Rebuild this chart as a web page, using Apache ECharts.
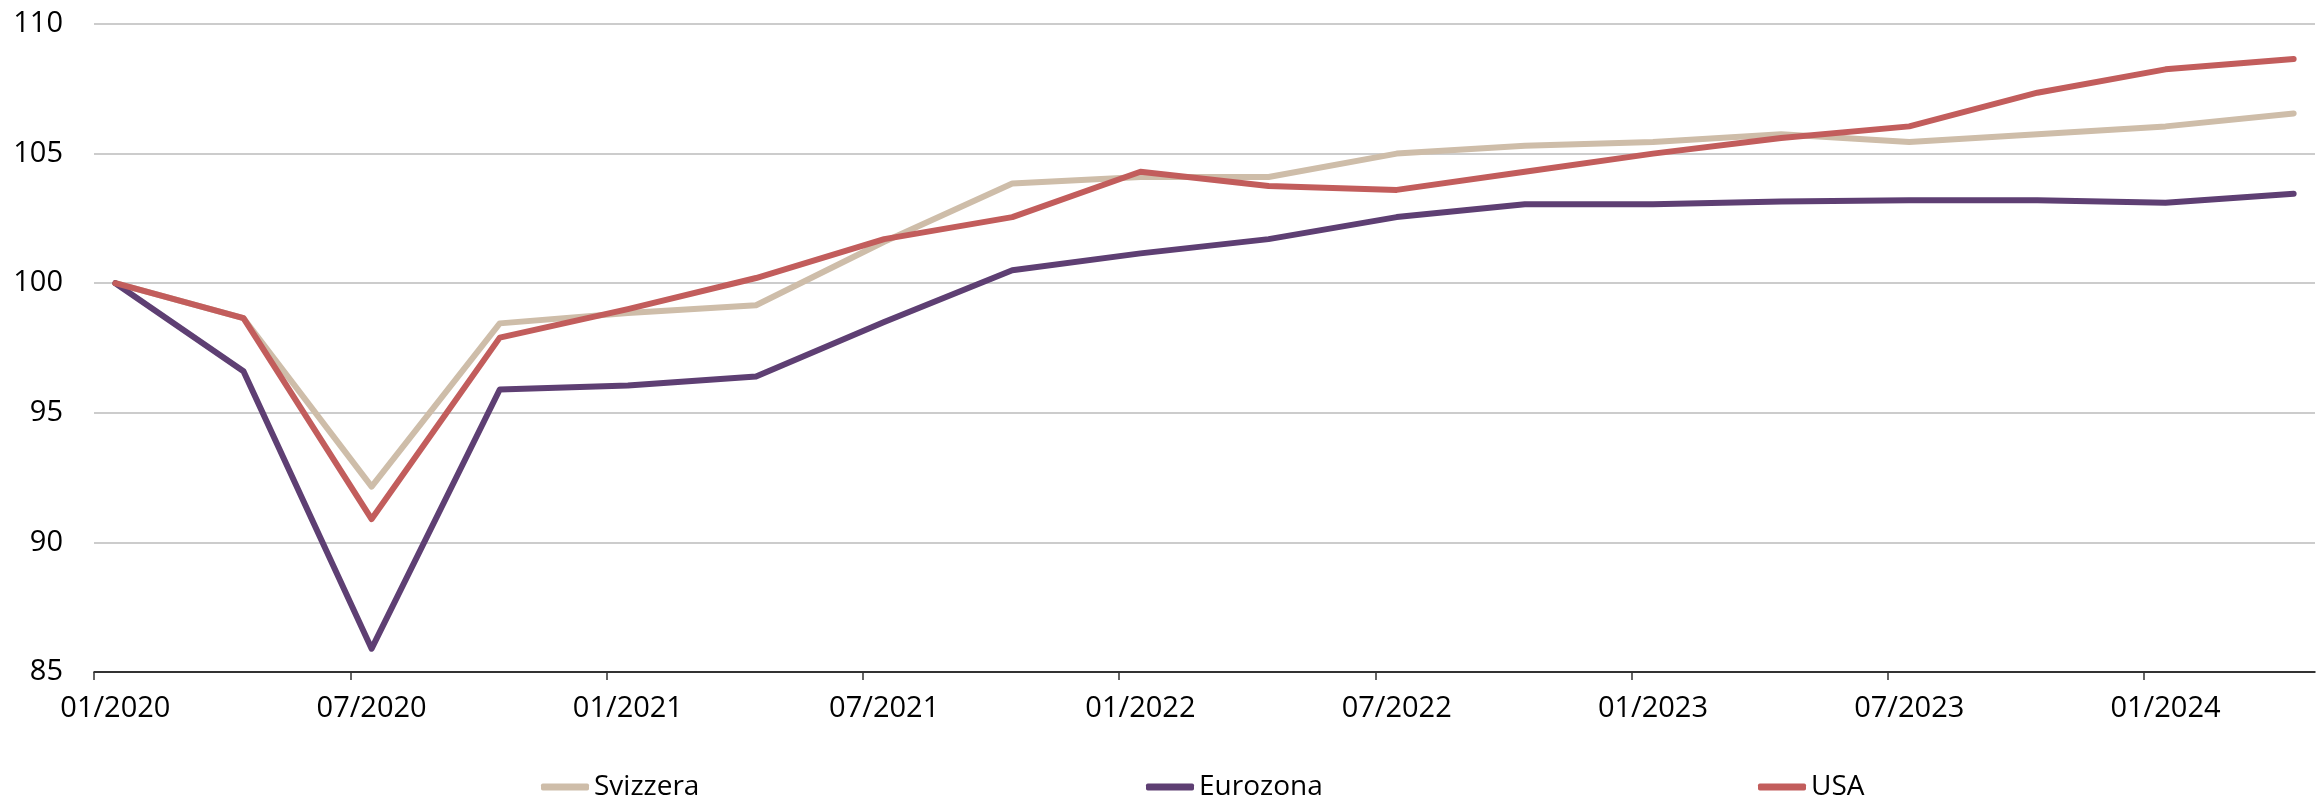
<!DOCTYPE html>
<html>
<head>
<meta charset="utf-8">
<title>Svizzera, Eurozona, USA</title>
<script src="https://cdn.jsdelivr.net/npm/echarts@6/dist/echarts.min.js"></script>
<style>
  html, body { margin: 0; padding: 0; background: #ffffff; }
  #chart { width: 2323px; height: 799px; }
</style>
</head>
<body>
<div id="chart"></div>
<script>
// Monthly axis, January 2020 to April 2024
const years = [2020, 2021, 2022, 2023, 2024];
const months = [];
years.forEach(y => {
  for (let m = 1; m <= 12; m++) {
    if (y === 2024 && m > 4) break;
    months.push(String(m).padStart(2, '0') + '/' + y);
  }
});

// Quarterly observations (index, 01/2020 = 100)
const quarters = [
  '01/2020', '04/2020', '07/2020', '10/2020',
  '01/2021', '04/2021', '07/2021', '10/2021',
  '01/2022', '04/2022', '07/2022', '10/2022',
  '01/2023', '04/2023', '07/2023', '10/2023',
  '01/2024', '04/2024'
];
const svizzera = [100, 98.65, 92.15, 98.45, 98.85, 99.15, 101.6, 103.85, 104.1, 104.1, 105.0, 105.3, 105.45, 105.75, 105.45, 105.75, 106.05, 106.55];
const eurozona = [100, 96.6, 85.9, 95.9, 96.05, 96.4, 98.5, 100.5, 101.15, 101.7, 102.55, 103.05, 103.05, 103.15, 103.2, 103.2, 103.1, 103.45];
const usa      = [100, 98.65, 90.9, 97.9, 99.0, 100.2, 101.7, 102.55, 104.3, 103.75, 103.6, 104.3, 105.0, 105.6, 106.05, 107.35, 108.25, 108.65];

// Y axis range
const yMin = 85, yMax = 110, yStep = 5;

const colors = { Svizzera: '#cebda9', Eurozona: '#5e3f73', USA: '#c25d5c' };
const font = 'Open Sans';

const pairs = vals => quarters.map((q, i) => [q, vals[i]]);
const halfYearIdx = months.map((_, i) => i).filter(i => i % 6 === 0);

function lineSeries(name, vals) {
  return {
    name: name,
    type: 'line',
    data: pairs(vals),
    showSymbol: false,
    symbol: 'none',
    smooth: false,
    lineStyle: { color: colors[name], width: 6, cap: 'round', join: 'round' },
    itemStyle: { color: colors[name] },
    emphasis: { disabled: true }
  };
}

function legendAt(name, left) {
  return {
    data: [name],
    left: left,
    top: 768,
    icon: 'roundRect',
    itemWidth: 48,
    itemHeight: 7,
    textStyle: { fontFamily: font, fontSize: 28, color: '#000' },
    selectedMode: false
  };
}

const chart = echarts.init(document.getElementById('chart'), null, { renderer: 'canvas' });
chart.setOption({
  animation: false,
  backgroundColor: '#ffffff',
  grid: { left: 94, right: 8, top: 24, bottom: 127, containLabel: false },
  legend: [
    legendAt('Svizzera', 536),
    legendAt('Eurozona', 1141),
    legendAt('USA', 1753)
  ],
  xAxis: [
    {
      type: 'category',
      data: months,
      boundaryGap: true,
      axisLine: { show: true, lineStyle: { color: '#000', width: 1.5 } },
      axisTick: { show: false },
      axisLabel: {
        interval: 5,
        margin: 22,
        fontFamily: font,
        fontSize: 29,
        color: '#000'
      },
      splitLine: { show: false }
    },
    {
      // half-year tick marks on the month boundaries
      type: 'value',
      position: 'bottom',
      min: 0,
      max: months.length,
      axisLine: { show: false },
      axisLabel: { show: false },
      splitLine: { show: false },
      axisTick: {
        show: true,
        length: 8,
        customValues: halfYearIdx,
        lineStyle: { color: '#333', width: 1.5 }
      }
    }
  ],
  yAxis: {
    type: 'value',
    min: yMin,
    max: yMax,
    interval: yStep,
    axisLine: { show: false },
    axisTick: { show: false },
    axisLabel: {
      margin: 31,
      fontFamily: font,
      fontSize: 29,
      color: '#000'
    },
    splitLine: { show: true, lineStyle: { color: '#cccccc', width: 2 } }
  },
  series: [
    lineSeries('Svizzera', svizzera),
    lineSeries('Eurozona', eurozona),
    lineSeries('USA', usa)
  ]
});
</script>
</body>
</html>
